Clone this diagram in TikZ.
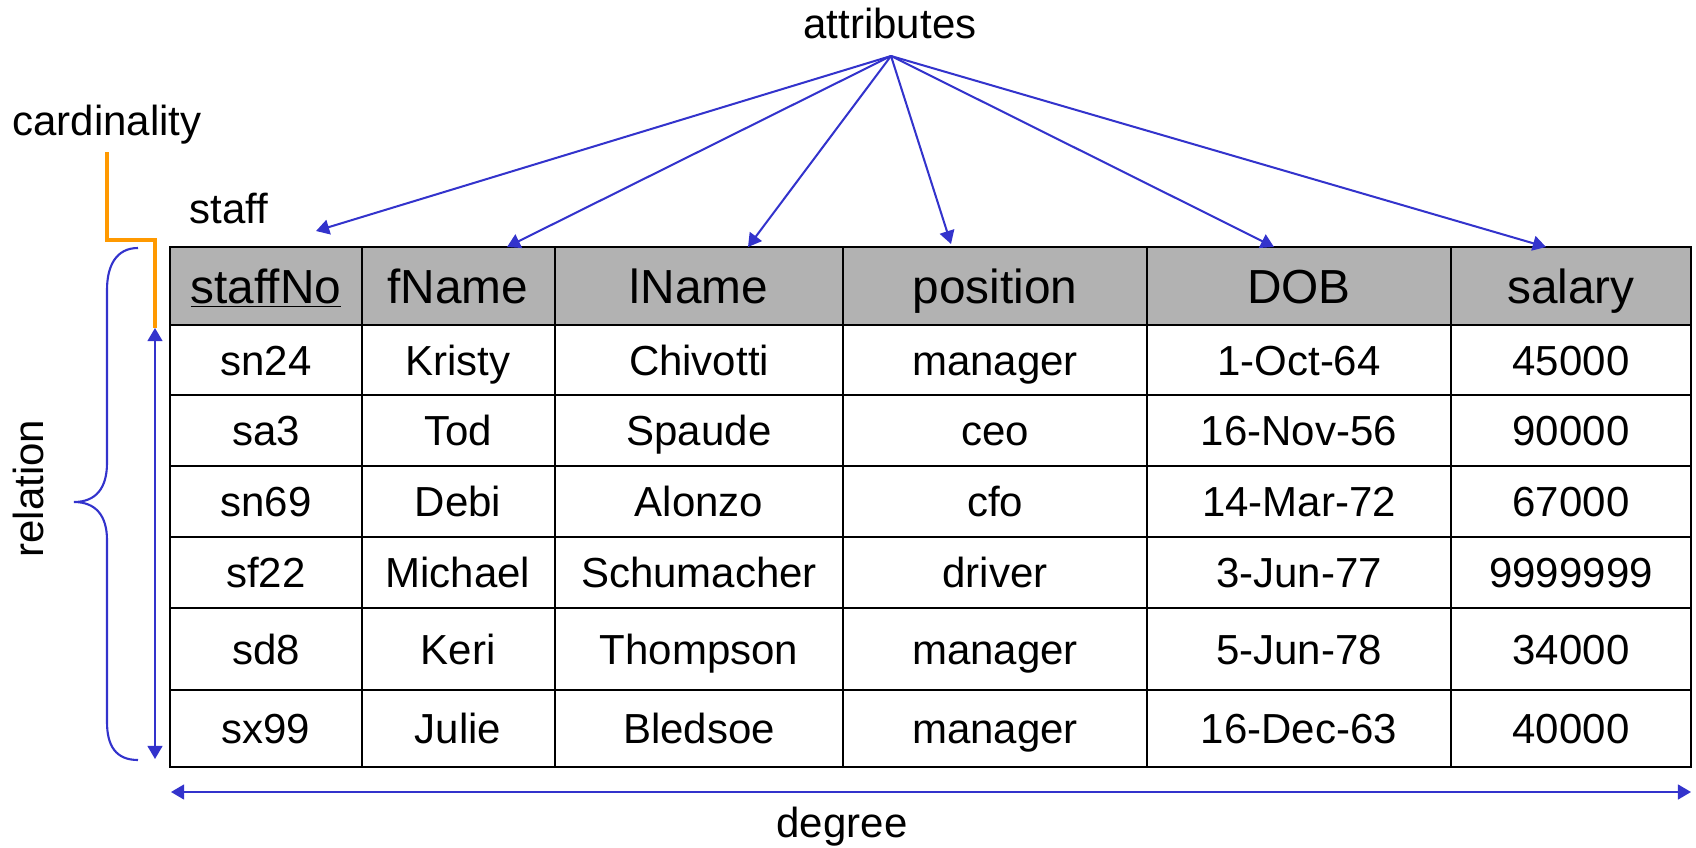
\documentclass[tikz,border=0pt]{standalone}
\usepackage{fontspec}
\setmainfont{Liberation Sans}
\usetikzlibrary{arrows.meta}
\definecolor{arrowblue}{RGB}{51,51,204}
\definecolor{cardorange}{RGB}{255,153,0}
\definecolor{headgray}{RGB}{178,178,178}
\tikzset{
	pointer/.style={arrowblue, line width=1.15pt, -{Triangle[length=7.5pt,width=8.5pt]}},
	twoway/.style={arrowblue, line width=1.15pt, {Triangle[length=7.5pt,width=8.5pt]}-{Triangle[length=7.5pt,width=8.5pt]}},
	tablerule/.style={black, line width=1.4pt},
	cell/.style={anchor=base, inner sep=0pt, font=\fontsize{23.9}{28}\selectfont},
	headcell/.style={cell, font=\fontsize{27.2}{32}\selectfont},
}
\begin{document}
\begin{tikzpicture}[x=0.02cm, y=-0.02cm]
	\useasboundingbox (0,0) rectangle (1696,848);
	\fill[headgray] (170,247) rectangle (1691,325);
	\draw[tablerule] (170,247) rectangle (1691,767);
	\foreach \y in {325,395,466,537,608,690}
		\draw[tablerule] (170,\y) -- (1691,\y);
	\foreach \x in {362,555,843,1147,1451}
		\draw[tablerule] (\x,247) -- (\x,767);
	\foreach \x/\t [count=\k] in {266/\underline{staffNo}, 458/fName, 699/lName, 995/position, 1299/DOB, 1571/salary}
		\node[headcell] (h\k) at (\x,303) {\t};
	\foreach \y/\sno/\fnm/\lnm/\psn/\dob/\sal [count=\r] in {
		360/sn24/Kristy/Chivotti/manager/1-Oct-64/45000,
		430.5/sa3/Tod/Spaude/ceo/16-Nov-56/90000,
		501.5/sn69/Debi/Alonzo/cfo/14-Mar-72/67000,
		572.5/sf22/Michael/Schumacher/driver/3-Jun-77/9999999,
		649/sd8/Keri/Thompson/manager/5-Jun-78/34000,
		728.5/sx99/Julie/Bledsoe/manager/16-Dec-63/40000}
		\foreach \x/\t [count=\k] in {266/\sno, 458/\fnm, 699/\lnm, 995/\psn, 1299/\dob, 1571/\sal}
			\node[cell] (r\r c\k) at (\x,\y+15) {\t};

	\node[cell] (attr) at (890,39) {attributes};
	\coordinate (apex) at (891,56);
	\coordinate (tip1) at (316,231);
	\coordinate (tip2) at (507,247);
	\coordinate (tip3) at (748,247);
	\coordinate (tip4) at (951,244);
	\coordinate (tip5) at (1274,247);
	\coordinate (tip6) at (1546,247);
	\foreach \k in {1,...,6}
		\draw[pointer] (apex) -- (tip\k);

	\node[cell] (staff) at (229,223) {staff};
	\node[cell] (card) at (107,135) {cardinality};
	\coordinate (cardfoot) at (107,152);
	\coordinate (rtop) at (155,328);
	\coordinate (rbot) at (155,759);
	\draw[cardorange, line width=2.3pt] (cardfoot) -- (107,240) -- (155,240) -- (rtop);
	\draw[twoway] (rtop) -- (rbot);
	\draw[arrowblue, line width=1.2pt] (138,248) .. controls (116,248) and (107,266) .. (107,290) -- (107,463)
		.. controls (107,488) and (96,502) .. (74,502) .. controls (96,502) and (107,516) .. (107,540) -- (107,722)
		.. controls (107,746) and (116,760) .. (138,760);
	\node[cell, rotate=90] (rel) at (43,488.5) {relation};

	\coordinate (dleft) at (171,792);
	\coordinate (dright) at (1691,792);
	\draw[twoway] (dleft) -- (dright);
	\node[cell] (deg) at (842,837) {degree};
\end{tikzpicture}
\end{document}
